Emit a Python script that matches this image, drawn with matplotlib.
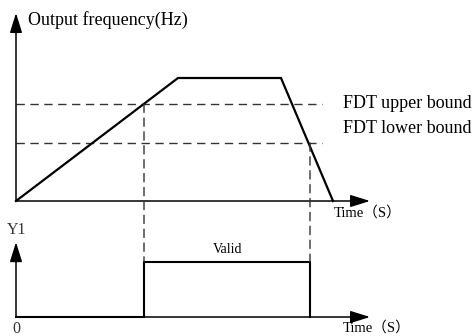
import matplotlib
matplotlib.use("Agg")
import matplotlib.pyplot as plt
from matplotlib.patches import ConnectionPatch

# output frequency profile (time in arbitrary units, frequency in Hz)
tempo = [0, 16.2, 26.5, 31.7]
freq = [0, 50, 50, 0]
fdt_superior = 39.4
fdt_inferior = 23.6

# Y1 output: valid between these two instants
t_liga = 12.8
t_desliga = 29.4
y1_t = [0, t_liga, t_liga, t_desliga, t_desliga]
y1_v = [0, 0, 1, 1, 0]

serif = ['Liberation Serif', 'Noto Sans CJK SC']

W, H = 476, 336
fig = plt.figure(figsize=(W / 100, H / 100), dpi=100)

# top panel: origin at pixel (16, 201)
ax1 = fig.add_axes([16 / W, (H - 201) / H, 460 / W, 201 / H])
ax1.set_xlim(0, 46)
ax1.set_ylim(0, 201 / 2.46)
ax1.axis('off')

# bottom panel: origin at pixel (16, 317)
ax2 = fig.add_axes([16 / W, (H - 317) / H, 460 / W, 97 / H])
ax2.set_xlim(0, 46)
ax2.set_ylim(0, 97 / 55)
ax2.axis('off')

seta = dict(arrowstyle='-|>,head_length=0.8,head_width=0.25', mutation_scale=15,
            color='black', lw=1.1, shrinkA=0, shrinkB=0)

# eixos com setas
ax1.annotate('', xy=(0, 76.4), xytext=(0, 0), arrowprops=seta, annotation_clip=False)
ax1.annotate('', xy=(35.4, 0), xytext=(0, 0), arrowprops=seta, annotation_clip=False)
ax2.annotate('', xy=(0, 1.36), xytext=(0, 0), arrowprops=seta, annotation_clip=False)
ax2.annotate('', xy=(35.4, 0), xytext=(0, 0), arrowprops=seta, annotation_clip=False)

# linhas FDT
tracejado = dict(color='#333333', lw=1.0, linestyle=(0, (6, 4)))
ax1.plot([0, 30.6], [fdt_superior, fdt_superior], clip_on=False, **tracejado)
ax1.plot([0, 30.6], [fdt_inferior, fdt_inferior], clip_on=False, **tracejado)

# curva de frequencia
ax1.plot(tempo, freq, color='black', lw=1.6, clip_on=False, solid_joinstyle='miter')

# pulso Y1
ax2.plot(y1_t, y1_v, color='black', lw=1.5, clip_on=False, solid_joinstyle='miter')

# linhas verticais ligando os dois graficos
for t, f in [(t_liga, fdt_superior), (t_desliga, fdt_inferior)]:
    con = ConnectionPatch(xyA=(t, f), coordsA=ax1.transData, xyB=(t, 1), coordsB=ax2.transData,
                          color='#333333', lw=1.0, linestyle=(0, (6, 4)))
    fig.add_artist(con)

# textos
ax1.text(1.2, 73.6, 'Output frequency(Hz)', family=serif, fontsize=13, va='center', ha='left')
ax1.text(32.7, 39.8, 'FDT upper bound', family=serif, fontsize=13, va='center', ha='left')
ax1.text(32.7, 29.3, 'FDT lower bound', family=serif, fontsize=13, va='center', ha='left')
ax1.text(31.8, -4.9, 'Time（S）', family=serif, fontsize=10.5, va='center', ha='left')
ax2.text(32.7, -0.2, 'Time（S）', family=serif, fontsize=10.5, va='center', ha='left')
ax2.text(0.05, 1.58, 'Y1', family=serif, fontsize=11.5, va='center', ha='center', color='#333333')
ax2.text(0.05, -0.22, '0', family=serif, fontsize=11.5, va='center', ha='center', color='#333333')
ax2.text(21.2, 1.22, 'Valid', family=serif, fontsize=10, va='center', ha='center')

fig.savefig('out.png', dpi=100)
